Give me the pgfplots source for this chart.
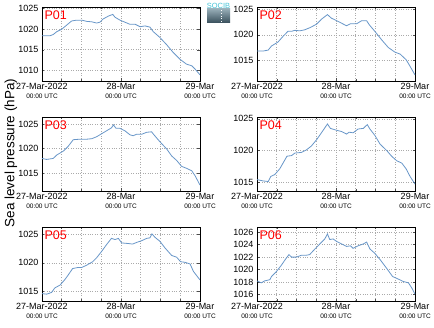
\documentclass[border=0pt]{standalone}
\usepackage{pgfplots}
\pgfplotsset{compat=1.18}
\usepackage{fontspec}
\setmainfont{Liberation Sans}
\definecolor{linecol}{RGB}{104,150,200}
\definecolor{gridcol}{RGB}{170,170,170}
\definecolor{logotop}{RGB}{150,172,182}
\definecolor{logobot}{RGB}{55,78,90}
\definecolor{logotxt}{RGB}{70,195,215}
\pgfplotsset{
  panel/.style={
    scale only axis, width=158pt, height=74pt, anchor=south west,
    xmin=0, xmax=48,
    xtick={0,24,48},
    minor xtick={6,12,18,30,36,42},
    xticklabels={{27-Mar-2022\\[-1pt]{\fontsize{6.5}{7}\selectfont 00:00 UTC}},{28-Mar\\[-1pt]{\fontsize{6.5}{7}\selectfont 00:00 UTC}},{29-Mar\\[-1pt]{\fontsize{6.5}{7}\selectfont 00:00 UTC}}},
    xticklabel style={align=center, font=\fontsize{9}{10}\selectfont, yshift=1pt},
    yticklabel style={font=\fontsize{9}{10}\selectfont},
    /pgf/number format/assume math mode=true,
    /pgf/number format/1000 sep={},
    grid=both,
    grid style={dotted, gridcol, line width=0.6pt},
    minor grid style={dotted, gridcol, line width=0.6pt},
    tick style={black!70, line width=0.5pt},
    major tick length=2.5pt, minor tick length=2pt,
    tick align=inside,
    axis line style={black, line width=0.8pt},
    clip=true,
  },
  ser/.style={color=linecol, line width=0.8pt, mark=none},
}
\newcommand{\plabel}[1]{\node[anchor=north west, text=red, font=\fontsize{12.5}{13}\selectfont, inner sep=0pt] at (rel axis cs:0.015,0.95) {#1};}
\begin{document}
\begin{tikzpicture}
\useasboundingbox (0,0) rectangle (434pt,327pt);
% P01
\begin{axis}[panel, at={(42pt,246pt)}, ymin=1007.4, ymax=1025.4, ytick={1010,1015,1020,1025}]
\addplot[ser] coordinates {(0,1018.4)(2.4,1018.4)(3.4,1018.7)(4.5,1019.4)(6.0,1020.0)(7.5,1021.0)(9.0,1022.0)(10.5,1022.2)(12.1,1022.2)(13.6,1021.9)(15.1,1021.8)(16.6,1021.5)(17.6,1021.7)(18.6,1022.5)(20.2,1023.2)(21.5,1023.6)(22.2,1022.9)(23.7,1022.2)(25.2,1021.7)(26.7,1021.2)(28.3,1021.2)(29.8,1020.6)(31.3,1020.8)(32.8,1020.5)(33.8,1019.4)(35.8,1018.0)(37.9,1016.2)(39.9,1014.3)(41.9,1012.7)(43.9,1011.5)(45.5,1011.1)(46.5,1010.3)(48,1008.9)};
\plabel{P01}
\end{axis}
% P02
\begin{axis}[panel, at={(257pt,246pt)}, ymin=1010.9, ymax=1025.5, ytick={1015,1020,1025}]
\addplot[ser] coordinates {(0,1016.8)(1.8,1016.8)(3.4,1017.0)(4.4,1017.8)(6.4,1018.6)(7.9,1019.7)(9.4,1020.7)(10.5,1020.7)(11.5,1020.9)(13,1020.8)(14.5,1021.0)(16.0,1021.4)(18.1,1022.1)(19.6,1023.1)(21.4,1024.0)(22.6,1023.3)(24.2,1022.8)(25.7,1022.3)(27.2,1021.8)(28.4,1022.2)(30.3,1022.2)(31.8,1022.8)(33.3,1022.8)(34.1,1022.0)(35.8,1020.7)(37.9,1019.0)(39.9,1017.5)(41.9,1016.6)(43.5,1016.2)(45.3,1015.1)(46.5,1013.8)(48,1012.1)};
\plabel{P02}
\end{axis}
% P03
\begin{axis}[panel, at={(42pt,136pt)}, ymin=1011.4, ymax=1026.4, ytick={1015,1020,1025}]
\addplot[ser] coordinates {(0,1018.0)(1.4,1017.8)(3.4,1018.0)(4.5,1018.7)(6.5,1019.5)(8.0,1020.5)(9.5,1021.8)(11.5,1021.9)(13.6,1021.9)(15.1,1022.0)(16.6,1022.4)(18.1,1023.0)(19.6,1023.6)(21.1,1024.2)(21.7,1024.8)(22.5,1024.1)(23.7,1024.1)(25.2,1023.6)(26.7,1022.8)(27.7,1022.6)(28.7,1022.9)(30.3,1022.9)(31.8,1023.3)(33.3,1023.4)(34.0,1022.8)(35.8,1021.4)(37.9,1019.9)(39.4,1018.5)(40.9,1017.6)(42.4,1016.4)(43.9,1016.0)(45.5,1015.5)(46.5,1014.5)(48,1012.6)};
\plabel{P03}
\end{axis}
% P04
\begin{axis}[panel, at={(257pt,136pt)}, ymin=1013.6, ymax=1025.3, ytick={1015,1020,1025}]
\addplot[ser] coordinates {(0,1015.4)(1.8,1015.2)(3.4,1015.1)(4.2,1015.9)(5.4,1016.2)(6.9,1017.1)(7.9,1018.0)(9.1,1019.1)(10.5,1019.2)(11.5,1019.6)(13.5,1019.7)(15.0,1020.1)(16.5,1020.7)(18.1,1021.7)(20.1,1023.2)(21.4,1024.2)(22.3,1023.5)(24.2,1023.2)(25.7,1023.0)(27.2,1022.6)(28.0,1022.9)(29.2,1022.8)(30.7,1023.4)(32.3,1023.5)(33.5,1024.1)(34.3,1023.4)(35.8,1022.4)(37.4,1021.0)(39.4,1020.0)(40.9,1019.1)(42.4,1018.4)(44.0,1018.0)(45.3,1017.1)(46.5,1015.9)(48,1014.7)};
\plabel{P04}
\end{axis}
% P05
\begin{axis}[panel, at={(42pt,26pt)}, ymin=1013.3, ymax=1026.3, ytick={1015,1020,1025}]
\addplot[ser] coordinates {(0,1014.6)(1.4,1014.5)(2.9,1014.8)(3.9,1015.6)(5.5,1016.1)(7.0,1017.1)(8.0,1017.9)(9.3,1019.0)(11.0,1019.2)(12.1,1019.2)(13.6,1019.6)(15.4,1020.2)(16.6,1020.9)(18.1,1022.0)(19.6,1023.2)(21.1,1024.3)(22.2,1024.1)(23.2,1024.3)(24.2,1023.5)(26.2,1023.4)(27.5,1023.3)(28.8,1023.6)(30.3,1023.9)(31.8,1024.3)(32.8,1024.4)(33.4,1025.1)(34.3,1024.5)(35.8,1023.8)(37.4,1022.6)(39.4,1021.3)(40.9,1021.0)(42.1,1020.2)(43.4,1020.1)(45.0,1019.8)(46.0,1018.5)(48,1017.0)};
\plabel{P05}
\end{axis}
% P06
\begin{axis}[panel, at={(257pt,26pt)}, ymin=1015.0, ymax=1026.8, ytick={1016,1018,1020,1022,1024,1026}]
\addplot[ser] coordinates {(0,1018.2)(1.3,1017.9)(2.3,1018.2)(3.9,1018.4)(4.4,1018.9)(5.9,1019.7)(7.4,1020.7)(8.7,1021.7)(9.7,1022.4)(10.5,1022.0)(12.0,1022.0)(13.5,1022.3)(15.0,1022.3)(16.0,1022.4)(17.6,1023.3)(19.1,1024.1)(20.6,1024.9)(21.4,1025.7)(22.1,1024.8)(23.1,1024.9)(24.2,1024.5)(25.7,1024.1)(27.2,1023.7)(28.4,1023.8)(29.2,1023.4)(30.7,1023.8)(32.3,1024.1)(33.3,1024.4)(34.3,1023.3)(35.8,1022.6)(37.4,1021.6)(39.4,1020.2)(41.2,1018.9)(42.9,1018.5)(44.5,1018.1)(46.0,1017.9)(47.0,1017.1)(48,1016.1)};
\plabel{P06}
\end{axis}
% y label
\node[rotate=90, font=\fontsize{13.5}{14}\selectfont] at (11pt,174pt) {Sea level pressure (hPa)};
% logo
\shade[top color=logotop, bottom color=logobot] (207pt,304pt) rectangle (230pt,318pt);
\node[font=\fontsize{7.5}{7.5}\selectfont, text=logotxt, inner sep=0pt] at (218.5pt,321.5pt) {SOCIB};
\draw[white, dotted, line width=0.8pt] (221pt,305pt) -- (221pt,317pt);
\end{tikzpicture}
\end{document}
